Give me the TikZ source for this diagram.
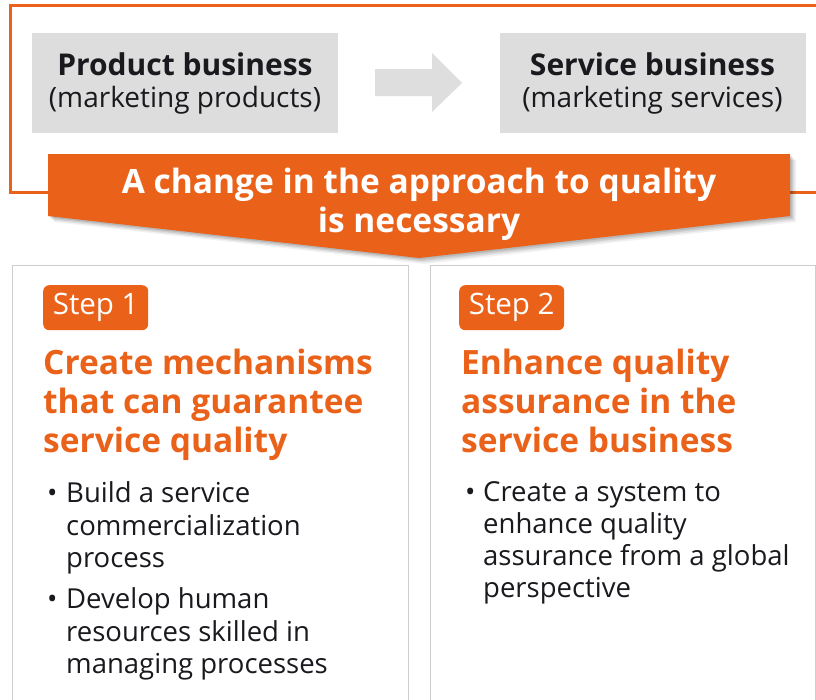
\documentclass[tikz,border=0pt]{standalone}
\usepackage{fontspec}
\setmainfont{Open Sans}
\definecolor{qorange}{RGB}{234,98,26}
\definecolor{boxgray}{RGB}{221,221,221}
\definecolor{arrowgray}{RGB}{222,222,222}
\definecolor{panelline}{RGB}{205,205,205}
\definecolor{textdark}{RGB}{25,25,30}
\tikzset{
  boxtitle/.style={anchor=base, inner sep=0, text=textdark, font=\fontsize{30}{30}\selectfont\bfseries},
  boxsub/.style={anchor=base, inner sep=0, text=textdark, font=\fontsize{28}{28}\selectfont},
  bannertext/.style={anchor=base, inner sep=0, text=white, font=\fontsize{33.5}{33.5}\selectfont\bfseries},
  stepbadge/.style={anchor=north west, fill=qorange, rounded corners=6pt, text=white, inner sep=0,
     minimum width=105pt, minimum height=45pt, font=\fontsize{29.5}{29.5}\selectfont},
  headline/.style={anchor=base west, inner sep=0, text=qorange, font=\fontsize{33.5}{33.5}\selectfont\bfseries},
  bodyline/.style={anchor=base west, inner sep=0, text=textdark, font=\fontsize{27.5}{27.5}\selectfont},
  graybox/.style={fill=boxgray, draw=none, inner sep=0, minimum width=306pt, minimum height=100pt},
}
\begin{document}
\begin{tikzpicture}[x=1pt,y=1pt]
\useasboundingbox (0,0) rectangle (816,-699);
\fill[white] (0,0) rectangle (816,-699);
% orange frame
\draw[qorange, line width=3pt] (830,-5) -- (10,-5) -- (10,-192) -- (830,-192);
% gray boxes
\node[graybox] (prod) at (185,-83) {};
\node[graybox] (serv) at (652.5,-83) {};
\node[boxtitle] (prodT) at (185,-75) {Product business};
\node[boxsub] (prodS) at (185,-107) {(marketing products)};
\node[boxtitle] (servT) at (652.5,-75) {Service business};
\node[boxsub] (servS) at (652.5,-107) {(marketing services)};
% gray arrow
\fill[arrowgray] (375,-69) -- (432,-69) -- (432,-53) -- (462,-83) -- (432,-112) -- (432,-96) -- (375,-96) -- cycle;
% panels
\draw[panelline, line width=1pt] (12.5,-720) -- (12.5,-265.5) -- (408,-265.5) -- (408,-720);
\draw[panelline, line width=1pt] (430.5,-720) -- (430.5,-265.5) -- (815.5,-265.5) -- (815.5,-720);
% banner with soft shadow
\foreach \s/\o in {6/0.05,4.5/0.07,3/0.09,1.5/0.1}{
  \fill[black, opacity=\o] (48+\s,-154-\s) -- (790+\s,-154-\s) -- (790+\s,-216-\s) -- (419+\s,-258-\s) -- (48+\s,-216-\s) -- cycle;
}
\fill[qorange] (48,-154) -- (790,-154) -- (790,-216) -- (419,-258) -- (48,-216) -- cycle;
\node[bannertext] (ban1) at (419,-193) {A change in the approach to quality};
\node[bannertext] (ban2) at (419,-232) {is necessary};
% step 1
\node[stepbadge] (s1) at (43,-285) {Step 1};
\node[headline] (h1a) at (43,-374) {Create mechanisms};
\node[headline] (h1b) at (43,-413) {that can guarantee};
\node[headline] (h1c) at (43,-452) {service quality};
\node[bodyline] (b1) at (47,-502) {•};
\node[bodyline] (t1a) at (66,-502) {Build a service};
\node[bodyline] (t1b) at (66,-535) {commercialization};
\node[bodyline] (t1c) at (66,-567) {process};
\node[bodyline] (b2) at (47,-608) {•};
\node[bodyline] (t2a) at (66,-608) {Develop human};
\node[bodyline] (t2b) at (66,-641) {resources skilled in};
\node[bodyline] (t2c) at (66,-673) {managing processes};
% step 2
\node[stepbadge] (s2) at (459,-285) {Step 2};
\node[headline] (h2a) at (461,-374) {Enhance quality};
\node[headline] (h2b) at (461,-413) {assurance in the};
\node[headline] (h2c) at (461,-452) {service business};
\node[bodyline] (b3) at (465,-501) {•};
\node[bodyline] (t3a) at (483,-501) {Create a system to};
\node[bodyline] (t3b) at (483,-533) {enhance quality};
\node[bodyline] (t3c) at (483,-565) {assurance from a global};
\node[bodyline] (t3d) at (483,-597) {perspective};
\end{tikzpicture}
\end{document}
